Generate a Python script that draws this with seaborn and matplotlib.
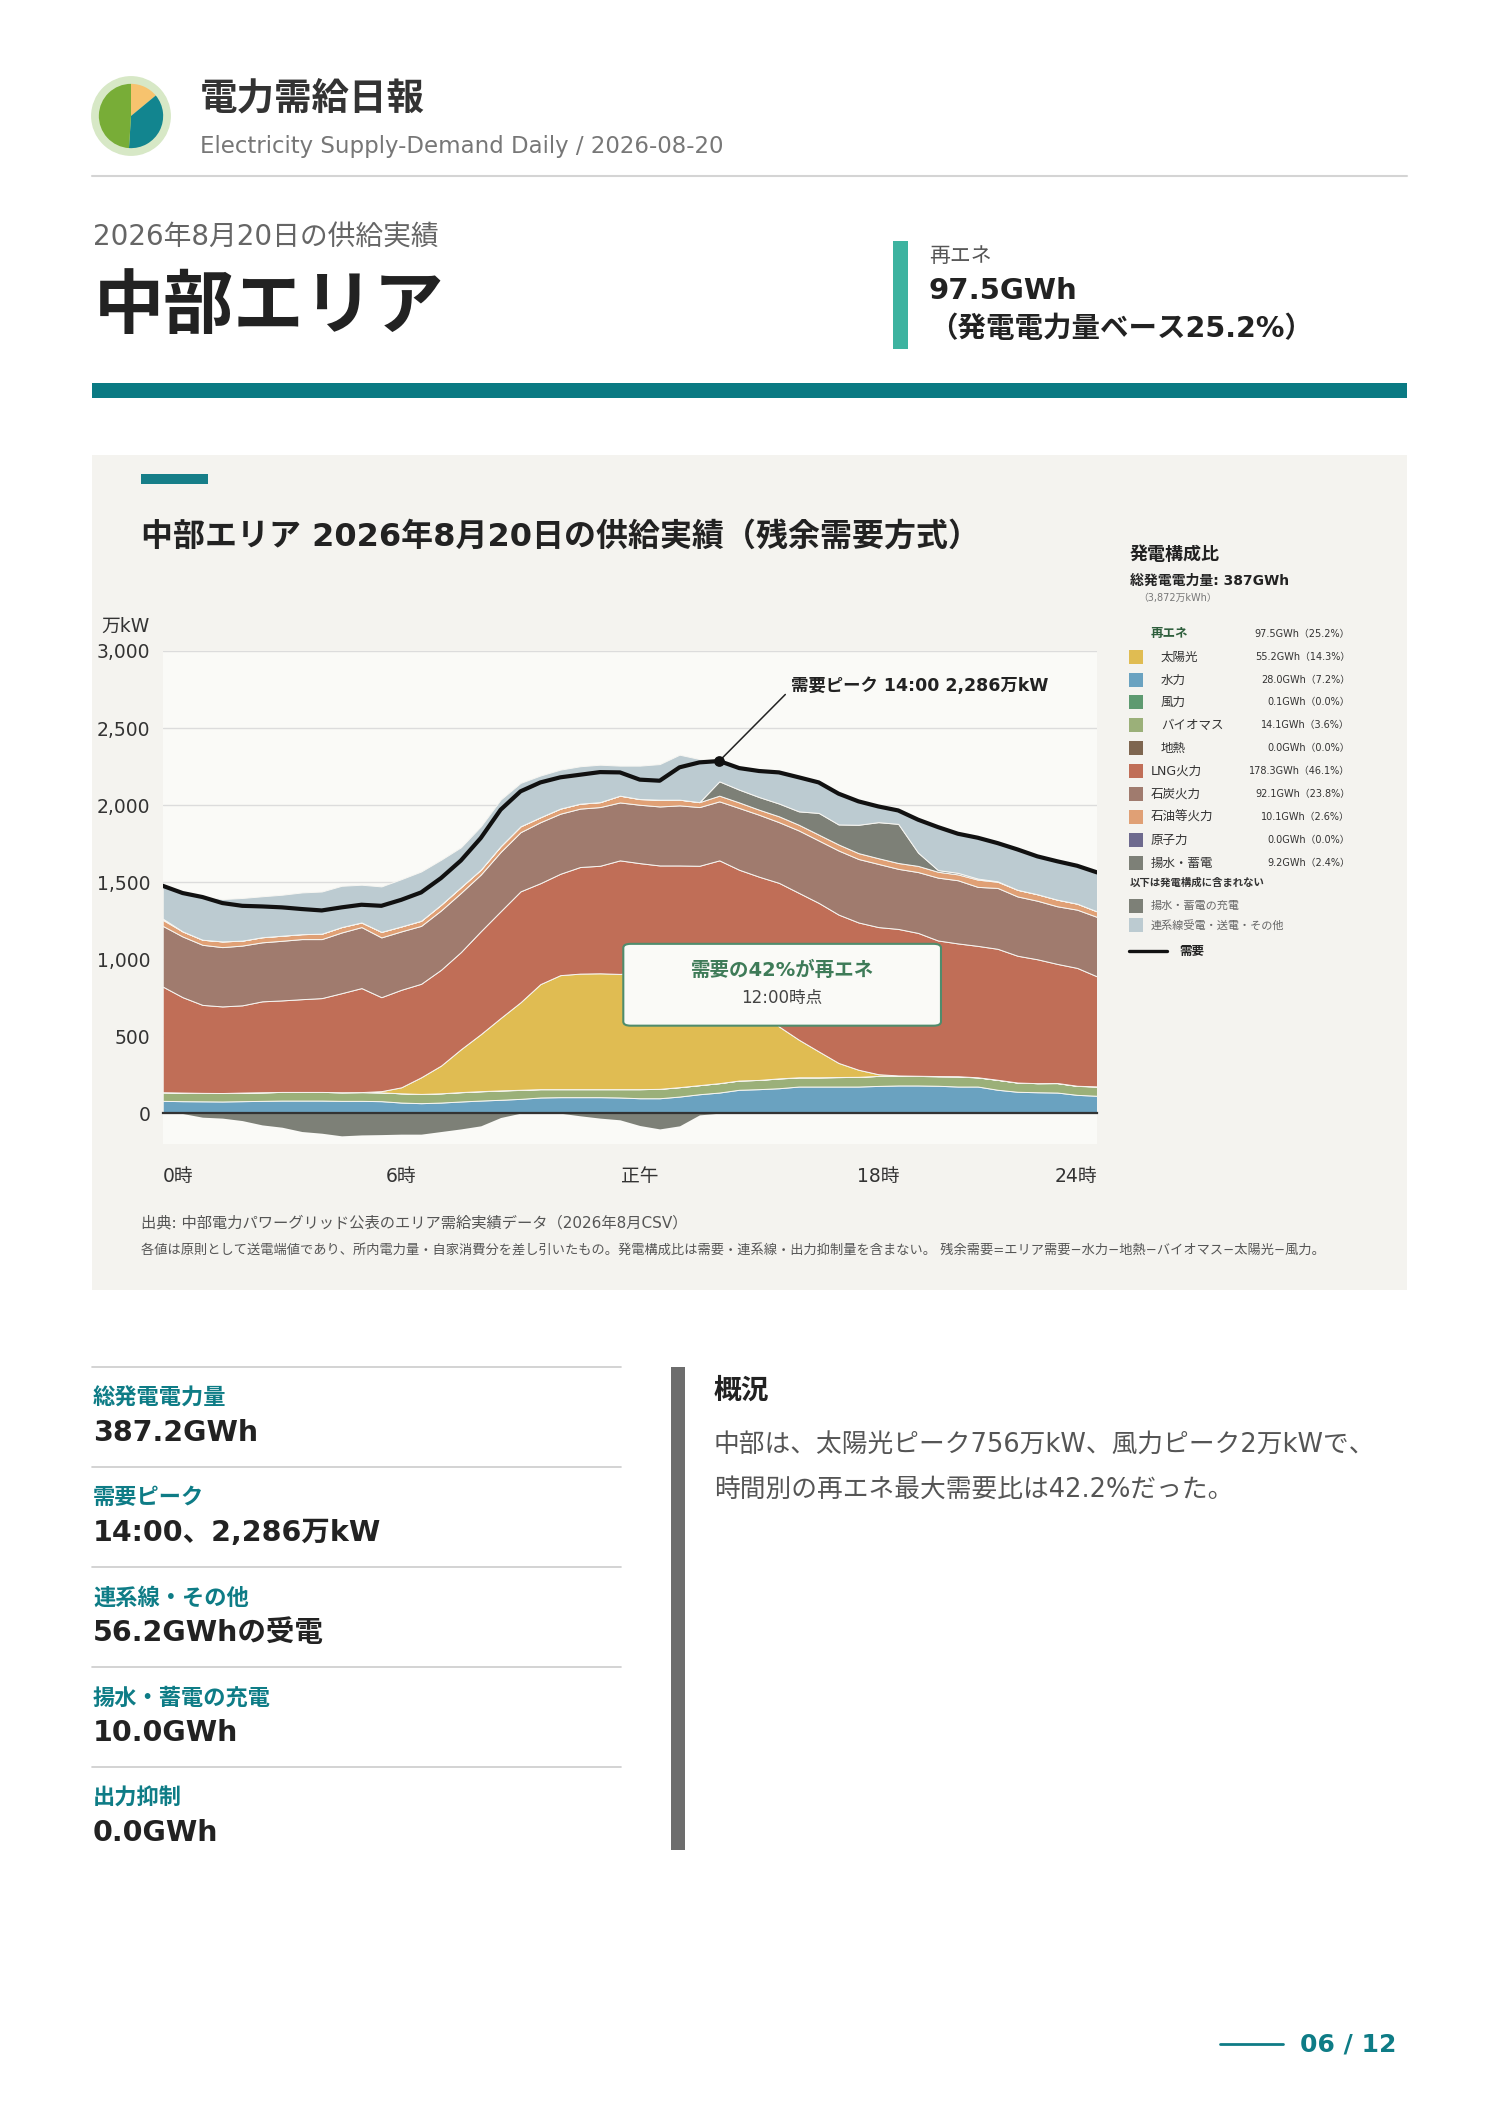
import numpy as np
import seaborn as sns
import matplotlib
matplotlib.use("Agg")
from matplotlib import pyplot as plt
from matplotlib.patches import Rectangle, FancyBboxPatch, Circle
from matplotlib.lines import Line2D

sns.set_theme(style="white")
# Latin in DejaVu (wide, like the original), Japanese falls back to Noto CJK
plt.rcParams['font.family'] = ['DejaVu Sans', 'Noto Sans CJK JP']
plt.rcParams['axes.unicode_minus'] = False

# 30分値 (万kW), 0:00 - 23:30
slots = np.arange(48) * 0.5

hydro = [80, 78, 77, 76, 78, 80, 82, 82, 82, 80, 80, 78,
         69, 65, 69, 76, 82, 87, 93, 102, 104, 104, 104, 102,
         97, 97, 108, 123, 134, 152, 156, 162, 173, 173, 173, 173,
         177, 180, 180, 178, 173, 173, 152, 139, 136, 134, 119, 113]
biomass = [56, 56, 55, 55, 55, 55, 56, 56, 56, 56, 57, 57,
           60, 60, 60, 60, 60, 60, 58, 54, 52, 52, 52, 54,
           59, 61, 61, 59, 61, 60, 60, 63, 59, 59, 61, 63,
           65, 62, 62, 61, 65, 59, 64, 60, 59, 61, 58, 60]
wind = [0, 0, 0, 0, 1, 1, 0, 0, 0, 0, 0, 0,
        0, 0, 0, 1, 1, 1, 1, 0, 0, 0, 0, 0,
        0, 0, 0, 0, 0, 0, 0, 1, 1, 1, 1, 0,
        0, 1, 1, 2, 2, 1, 1, 0, 0, 1, 1, 1]
solar = [0, 0, 0, 0, 0, 0, 0, 0, 0, 0, 0, 8,
         39, 108, 180, 278, 370, 470, 568, 682, 740, 750, 752, 748,
         756, 740, 715, 680, 630, 570, 480, 337, 244, 168, 91, 46,
         11, 2, 0, 0, 0, 0, 0, 0, 0, 0, 0, 0]
lng = [686, 619, 571, 562, 566, 590, 594, 602, 609, 643, 675, 610,
       633, 607, 622, 631, 668, 693, 720, 655, 658, 692, 698, 737,
       711, 710, 724, 744, 816, 798, 839, 932, 953, 964, 963, 956,
       955, 951, 927, 880, 862, 853, 850, 823, 804, 773, 765, 714]
coal = [394, 394, 390, 385, 388, 383, 387, 390, 383, 394, 396, 388,
        379, 376, 385, 384, 368, 385, 384, 396, 390, 379, 381, 376,
        379, 383, 390, 381, 383, 401, 402, 394, 405, 405, 416, 412,
        410, 390, 395, 408, 410, 383, 395, 385, 380, 374, 378, 386]
oil = [39, 33, 33, 37, 32, 33, 33, 32, 35, 35, 30, 36,
       32, 33, 37, 37, 32, 37, 38, 32, 33, 32, 32, 44,
       37, 44, 37, 32, 37, 36, 33, 38, 37, 38, 39, 38,
       37, 38, 40, 38, 38, 47, 40, 43, 42, 43, 39, 36]
pumped_gen = [8, 0, 0, 0, 0, 0, 0, 0, 0, 0, 0, 0,
              0, 0, 0, 0, 0, 0, 0, 0, 0, 0, 0, 0,
              0, 0, 0, 0, 93, 83, 82, 83, 87, 141, 130, 184,
              234, 254, 86, 11, 10, 7, 3, 0, 0, 0, 0, 0]
interconnect = [213, 244, 281, 275, 277, 266, 266, 271, 274, 268, 245, 295,
                307, 320, 292, 259, 281, 303, 282, 271, 253, 243, 243, 195,
                217, 231, 292, 280, 132, 140, 169, 203, 221, 199, 202, 152,
                101, 88, 217, 281, 256, 266, 249, 262, 246, 250, 247, 254]
pumped_charge = [0, -2, -26, -32, -48, -76, -91, -119, -130, -147, -141, -139,
                 -136, -136, -119, -102, -82, -28, 0, 0, 0, -17, -32, -43,
                 -80, -102, -82, -11, 0, 0, 0, 0, 0, 0, 0, 0,
                 0, 0, 0, 0, 0, 0, 0, 0, 0, 0, 0, 0]
demand = [1476, 1429, 1403, 1364, 1346, 1342, 1336, 1325, 1316, 1336, 1353, 1346,
          1385, 1433, 1526, 1640, 1786, 1970, 2089, 2147, 2180, 2197, 2214, 2212,
          2165, 2158, 2245, 2277, 2286, 2240, 2221, 2212, 2180, 2147, 2074, 2024,
          1991, 1965, 1905, 1857, 1814, 1788, 1753, 1712, 1667, 1635, 1606, 1563]

# 発電構成比 (凡例)
legend_names = ['太陽光', '水力', '風力', 'バイオマス', '地熱', 'LNG火力', '石炭火力',
                '石油等火力', '原子力', '揚水・蓄電']
legend_gwh = [55.2, 28.0, 0.1, 14.1, 0.0, 178.3, 92.1, 10.1, 0.0, 9.2]
legend_pct = [14.3, 7.2, 0.0, 3.6, 0.0, 46.1, 23.8, 2.6, 0.0, 2.4]
legend_colors = ['#E0BC52', '#6AA2C0', '#5E9A70', '#9BB079', '#7E6650', '#C06E57',
                 '#A07B6E', '#E0A075', '#6E6A8E', '#7D8077']
renew_gwh, renew_pct = 97.5, 25.2

stat_labels = ['総発電電力量', '需要ピーク', '連系線・その他', '揚水・蓄電の充電', '出力抑制']
stat_values = ['387.2GWh', '14:00、2,286万kW', '56.2GWhの受電', '10.0GWh', '0.0GWh']

logo_shares = [14, 37, 49]

W, H = 1488, 2105
TEAL = '#0E7C86'

fig = plt.figure(figsize=(W / 100, H / 100), dpi=100)
fig.patch.set_facecolor('white')


def fx(px):
    return px / W


def fy(py):
    return 1 - py / H


def ftext(px, py, s, **kw):
    kw.setdefault('va', 'center')
    return fig.text(fx(px), fy(py), s, **kw)


def frect(x0, y0, x1, y1, color, z=-5):
    fig.add_artist(Rectangle((fx(x0), fy(y1)), (x1 - x0) / W, (y1 - y0) / H,
                             transform=fig.transFigure, color=color, lw=0, zorder=z))


def fline(x0, x1, y, color, lw):
    fig.add_artist(Line2D([fx(x0), fx(x1)], [fy(y), fy(y)], transform=fig.transFigure,
                          color=color, lw=lw))


# ---- header ----
ax_logo = fig.add_axes([fx(91), fy(156), 80 / W, 80 / H])
ax_logo.add_patch(Circle((0, 0), 1.0, color='#D7E8C6'))
ax_logo.pie(logo_shares, colors=['#F7C36E', '#12858F', '#78AD37'], startangle=90,
            counterclock=False, radius=0.82, wedgeprops=dict(lw=0))
ax_logo.set_xlim(-1.02, 1.02)
ax_logo.set_ylim(-1.02, 1.02)
ax_logo.axis('off')

ftext(200, 99, '電力需給日報', fontsize=27, weight='bold', color='#333333')
ftext(200, 146, 'Electricity Supply-Demand Daily / 2026-08-20', fontsize=16.5, color='#777777')
fline(92, 1407, 176, '#D4D4D4', 1.5)

ftext(93, 238, '2026年8月20日の供給実績', fontsize=20, color='#666666')
ftext(94, 309, '中部エリア', fontsize=50.5, weight='bold', color='#222222')

frect(893, 241, 908, 349, '#3DB3A0')
ftext(929, 256, '再エネ', fontsize=15, color='#555555')
ftext(929, 291, f'{renew_gwh}GWh', fontsize=21, weight='bold', color='#222222')
ftext(929, 329, f'（発電電力量ベース{renew_pct}%）', fontsize=20.5, weight='bold', color='#222222')
frect(92, 383, 1407, 398, '#0A7A83')

# ---- chart panel ----
frect(92, 455, 1407, 1290, '#F4F3EF')
frect(141, 474, 208, 484, '#167E88')
ftext(141, 537, '中部エリア 2026年8月20日の供給実績（残余需要方式）', fontsize=23,
      weight='bold', color='#222222')
ftext(150, 626, '万kW', fontsize=13.5, color='#333333', ha='right')

ax = fig.add_axes([fx(162.7), fy(1144), (1097 - 162.7) / W, (1144 - 651) / H])
ax.set_facecolor('#FAFAF7')

stack_colors = ['#6AA2C0', '#9BB079', '#5E9A70', '#E0BC52', '#C06E57', '#A07B6E',
                '#E0A075', '#7D8077', '#BCCBD1']
ax.stackplot(slots, hydro, biomass, wind, solar, lng, coal, oil, pumped_gen, interconnect,
             colors=stack_colors, edgecolor='#F7F6F2', linewidth=0.7, zorder=2)
ax.fill_between(slots, pumped_charge, 0, color='#7D8077', lw=0, zorder=2)
sns.lineplot(x=slots, y=demand, ax=ax, color='#111111', linewidth=3.0, zorder=5)

pk = int(np.argmax(demand))
pk_time = f'{int(slots[pk]):02d}:{int(round(slots[pk] % 1 * 60)):02d}'
ax.scatter([slots[pk]], [demand[pk]], s=45, color='#111111', zorder=6)
ax.annotate(f'需要ピーク {pk_time} {demand[pk]:,}万kW', xy=(slots[pk], demand[pk]),
            xytext=(0.672, 0.928), textcoords='axes fraction', fontsize=12.5, weight='bold',
            color='#222222', va='center', ha='left',
            arrowprops=dict(arrowstyle='-', color='#222222', lw=1.1, shrinkA=2, shrinkB=3,
                            relpos=(0, 0.35)))

noon = slots.tolist().index(12.0)
ratio = (hydro[noon] + biomass[noon] + wind[noon] + solar[noon]) / demand[noon] * 100
ax.add_patch(FancyBboxPatch((0.493, 0.240), 0.340, 0.166, boxstyle='round,pad=0,rounding_size=0.008',
                            transform=ax.transAxes, facecolor='#FAFAF7', edgecolor='#4F8C6C',
                            lw=1.5, zorder=7))
ax.text(0.663, 0.353, f'需要の{ratio:.0f}%が再エネ', transform=ax.transAxes, fontsize=14,
        weight='bold', color='#3E7B58', ha='center', va='center', zorder=8)
ax.text(0.663, 0.297, '12:00時点', transform=ax.transAxes, fontsize=12,
        color='#444444', ha='center', va='center', zorder=8)

ax.set_xlim(0, 23.5)
ax.set_ylim(-200, 3000)
yt = [0, 500, 1000, 1500, 2000, 2500, 3000]
ax.set_yticks(yt)
ax.set_yticklabels([f'{v:,}' for v in yt])
ax.set_xticks([0, 6, 12, 18, 23.5])
ax.set_xticklabels(['0時', '6時', '正午', '18時', '24時'])
ax.set_xlabel('')
ax.set_ylabel('')
ax.yaxis.grid(True, color='#DCDCDC', lw=1)
ax.xaxis.grid(False)
ax.set_axisbelow(True)
for s in ['top', 'right', 'left']:
    ax.spines[s].set_visible(False)
ax.spines['bottom'].set_position(('data', 0))
ax.spines['bottom'].set_color('#333333')
ax.spines['bottom'].set_linewidth(1.6)
ax.spines['bottom'].set_zorder(4)
ax.tick_params(axis='y', length=0, pad=9, labelsize=13.5, labelcolor='#333333')
ax.tick_params(axis='x', length=5, width=1, color='#999999', direction='out', pad=34,
               labelsize=13.5, labelcolor='#333333')

# ---- legend ----
ftext(1130, 555, '発電構成比', fontsize=13, weight='bold', color='#222222')
ftext(1130, 581, '総発電電力量: 387GWh', fontsize=10, weight='bold', color='#222222')
ftext(1138, 598, '（3,872万kWh）', fontsize=7, color='#777777')
ftext(1151, 634, '再エネ', fontsize=9, weight='bold', color='#2E5E3C')
ftext(1350, 634, f'{renew_gwh}GWh（{renew_pct}%）', fontsize=7, color='#333333', ha='right')
row_y = [657, 680, 702, 725, 748, 771, 794, 817, 840, 863]
for i, name in enumerate(legend_names):
    y = row_y[i]
    frect(1129, y - 7, 1143, y + 7, legend_colors[i], z=3)
    lx = 1161 if i < 5 else 1151
    ftext(lx, y, name, fontsize=9, color='#333333')
    ftext(1350, y, f'{legend_gwh[i]:.1f}GWh（{legend_pct[i]:.1f}%）', fontsize=7,
          color='#333333', ha='right')
ftext(1130, 883, '以下は発電構成に含まれない', fontsize=7.5, weight='bold', color='#333333')
frect(1129, 899, 1143, 913, '#7D8077', z=3)
ftext(1151, 906, '揚水・蓄電の充電', fontsize=8, color='#666666')
frect(1129, 918, 1143, 932, '#BCCBD1', z=3)
ftext(1151, 925, '連系線受電・送電・その他', fontsize=8, color='#666666')
fline(1129, 1167, 951, '#111111', 2.4)
ftext(1179, 951, '需要', fontsize=9, weight='bold', color='#222222')

# ---- footnotes ----
ftext(141, 1223, '出典: 中部電力パワーグリッド公表のエリア需給実績データ（2026年8月CSV）',
      fontsize=11, color='#555555')
ftext(141, 1250, '各値は原則として送電端値であり、所内電力量・自家消費分を差し引いたもの。'
      '発電構成比は需要・連系線・出力抑制量を含まない。 残余需要=エリア需要−水力−地熱−バイオマス−太陽光−風力。',
      fontsize=9.5, color='#555555')

# ---- bottom stats ----
for k, (lab, val) in enumerate(zip(stat_labels, stat_values)):
    y0 = 1367 + 100 * k
    fline(92, 621, y0, '#CCCCCC', 1.2)
    ftext(93, y0 + 31, lab, fontsize=16, weight='bold', color=TEAL)
    ftext(93, y0 + 66, val, fontsize=20.5, weight='bold', color='#222222')

frect(671, 1367, 685, 1850, '#6D6D6D')
ftext(714, 1391, '概況', fontsize=20, weight='bold', color='#222222')
ftext(714, 1446, '中部は、太陽光ピーク756万kW、風力ピーク2万kWで、', fontsize=18.5, color='#555555')
ftext(714, 1490, '時間別の再エネ最大需要比は42.2%だった。', fontsize=18.5, color='#555555')

fline(1220, 1283, 2044, TEAL, 2)
ftext(1300, 2044, '06 / 12', fontsize=18, weight='bold', color=TEAL)

# first / last hour labels sit inside the plot edges
fig.canvas.draw()
xl = ax.get_xticklabels()
xl[0].set_horizontalalignment('left')
xl[-1].set_horizontalalignment('right')

fig.savefig('out.png', dpi=100)
